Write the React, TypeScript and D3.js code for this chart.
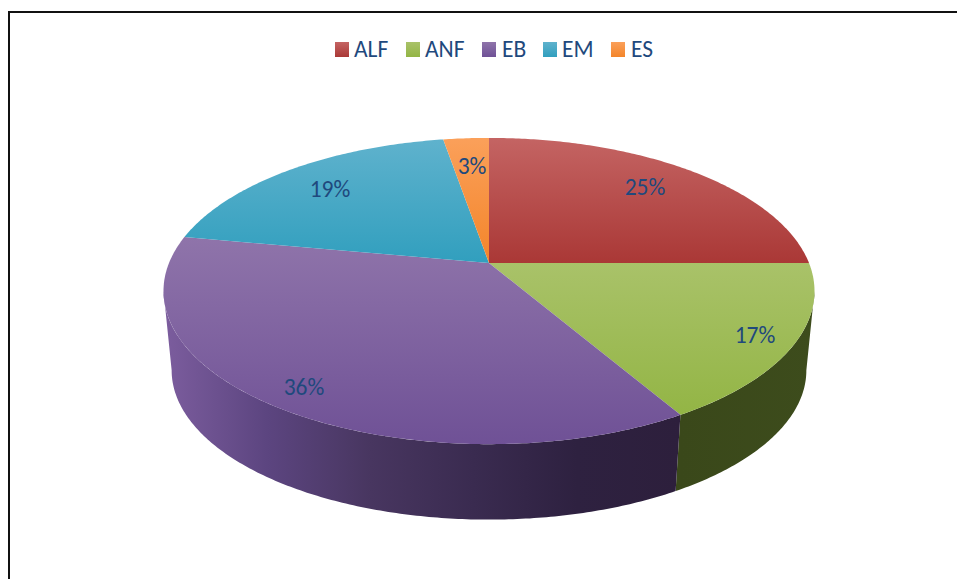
import React from "react";
import * as d3 from "d3";

const categories = ["ALF", "ANF", "EB", "EM", "ES"];
const values = [25, 16.6, 36.3, 19.4, 2.7];
const legendX = [335, 406, 482, 543, 611];
const legendTextX = [354, 425, 502, 562, 631];
const topColors = [
  ["#c46463", "#aa3836"],
  ["#a9c269", "#93b545"],
  ["#8f74aa", "#6f5196"],
  ["#5fb2cd", "#319fbe"],
  ["#fba05a", "#f3852a"],
];
const wallStops = [
  ["#8a2a28", "#8a2a28"],
  ["#3a481a", "#3d4c1c"],
  ["#7c5d9e", "#5c4580", "#483660", "#3a2b50", "#2e2140", "#2d1f3c"],
  ["#2f8aa5", "#2f8aa5"],
  ["#d9751f", "#d9751f"],
];
const labelPos = [
  [645, 187],
  [755, 335],
  [304, 387],
  [330, 189],
  [472, 166],
];

const W = 957, H = 579;
const cx = 489, py = 263;
const A = 320, B = 148, P = 0.183;
const depthY = 80, depthS = 0.975;
const wallStart = Math.acos(-P);
const wallEnd = 2 * Math.PI - Math.acos(-P);

function project(a: number, bottom = false): [number, number] {
  const u = Math.sin(a), v = -Math.cos(a);
  const w = 1 - P * v;
  const s = bottom ? depthS : 1;
  return [cx + (s * A * u) / w, py + (bottom ? depthY : 0) + (s * B * v) / w];
}

const line = d3.line<[number, number]>();
const arcs = d3.pie<number>().sort(null)(values);

function samples(a0: number, a1: number): number[] {
  const n = Math.max(4, Math.ceil((a1 - a0) * 90));
  return d3.range(n + 1).map((i) => a0 + ((a1 - a0) * i) / n);
}

function wallPath(a0: number, a1: number): string {
  const angles = samples(a0, a1);
  const pts = [
    ...angles.map((a) => project(a, false)),
    ...angles.slice().reverse().map((a) => project(a, true)),
  ];
  return (line(pts) as string) + "Z";
}

export default function App() {
  const font = "Carlito, Lato, 'Open Sans', sans-serif";
  return (
    <svg width={W} height={H} style={{ position: "absolute", left: 0, top: 0, background: "#fff" }}>
      <defs>
        {arcs.map((d, i) => {
          const pts = [...samples(d.startAngle, d.endAngle).map((a) => project(a)), [cx, py]];
          const ys = pts.map((p) => p[1]);
          return (
            <linearGradient key={i} id={`top${i}`} gradientUnits="userSpaceOnUse" x1={0} x2={0} y1={d3.min(ys)} y2={d3.max(ys)}>
              <stop offset="0" stopColor={topColors[i][0]} />
              <stop offset="1" stopColor={topColors[i][1]} />
            </linearGradient>
          );
        })}
        {categories.map((c, i) => (
          <linearGradient key={c} id={`legend${i}`} x1={0} x2={0} y1={0} y2={1}>
            <stop offset="0" stopColor={topColors[i][0]} />
            <stop offset="1" stopColor={topColors[i][1]} />
          </linearGradient>
        ))}
        {arcs.map((d, i) => {
          const xs = samples(d.startAngle, d.endAngle).map((a) => project(a)[0]);
          const stops = wallStops[i];
          return (
            <linearGradient key={i} id={`wall${i}`} gradientUnits="userSpaceOnUse" y1={0} y2={0} x1={d3.min(xs)} x2={d3.max(xs)}>
              {stops.map((c, j) => (
                <stop key={j} offset={j / (stops.length - 1)} stopColor={c} />
              ))}
            </linearGradient>
          );
        })}
      </defs>
      <rect x={9} y={12} width={W} height={H} fill="#fff" stroke="#111" strokeWidth={2} />

      {arcs.map((d, i) => {
        const start = Math.max(d.startAngle, wallStart);
        const end = Math.min(d.endAngle, wallEnd);
        if (end <= start) return null;
        return <path key={i} d={wallPath(start, end)} fill={`url(#wall${i})`} />;
      })}

      {arcs.map((d, i) => {
        const pts = [[cx, py] as [number, number], ...samples(d.startAngle, d.endAngle).map((a) => project(a))];
        return <path key={i} d={(line(pts) as string) + "Z"} fill={`url(#top${i})`} />;
      })}

      {arcs.map((d, i) => (
        <text key={i} x={labelPos[i][0]} y={labelPos[i][1]} textAnchor="middle" dominantBaseline="central" fontFamily={font} fontSize={23.5} fill="#1f497d">
          {d3.format(".0f")(values[i])}%
        </text>
      ))}

      {categories.map((c, i) => (
        <g key={c}>
          <rect x={legendX[i]} y={42} width={14} height={15} fill={`url(#legend${i})`} />
          <text x={legendTextX[i]} y={49} dominantBaseline="central" fontFamily={font} fontSize={23.5} fill="#1f497d">
            {c}
          </text>
        </g>
      ))}
    </svg>
  );
}
